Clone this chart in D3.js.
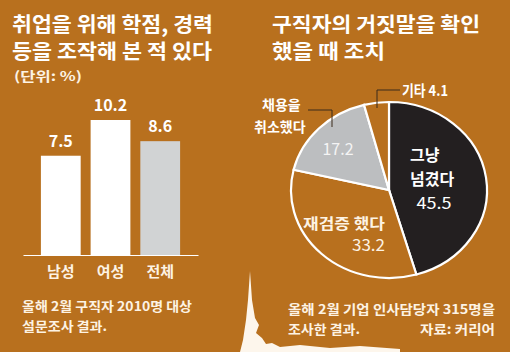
<!DOCTYPE html>
<html>
<head>
<meta charset="utf-8">
<script src="https://cdn.jsdelivr.net/npm/d3@7"></script>
<style>
  body { margin: 0; background: #b8701e; }
  svg text { font-family: "Noto Sans CJK KR", "Noto Sans", sans-serif; }
</style>
</head>
<body>
<div id="chart"></div>
<script>
// left: bar chart
const barCats = ["남성", "여성", "전체"];
const barVals = [7.5, 10.2, 8.6];
// right: pie chart
const pieCats = ["그냥 넘겼다", "재검증 했다", "채용을 취소했다", "기타"];
const pieVals = [45.5, 33.2, 17.2, 4.1];

const width = 510, height = 352;
const bg = "#b8701e";
const cream = "#fdf3e4";

const svg = d3.select("#chart").append("svg")
  .attr("width", width)
  .attr("height", height);

svg.append("rect").attr("width", width).attr("height", height).attr("fill", bg);

// titles
const addText = (x, y, txt, size, opts = {}) => {
  const t = svg.append("text")
    .attr("x", x).attr("y", y)
    .attr("font-size", size)
    .attr("font-weight", opts.weight || "bold")
    .attr("fill", opts.fill || "#ffffff")
    .attr("text-anchor", opts.anchor || "start")
    .text(txt);
  if (opts.len) t.attr("textLength", opts.len).attr("lengthAdjust", "spacingAndGlyphs");
  return t;
};

addText(12, 32, "취업을 위해 학점, 경력", 20, { len: 201 });
addText(12, 59, "등을 조작해 본 적 있다", 20, { len: 200 });
addText(14, 81, "(단위: %)", 13, { len: 68, fill: cream });

addText(272, 32, "구직자의 거짓말을 확인", 20, { len: 208 });
addText(272, 59, "했을 때 조치", 20, { len: 113 });

// ---- bar chart ----
const x = d3.scaleBand()
  .domain(barCats)
  .range([23, 198])
  .paddingInner(0.2)
  .paddingOuter(0.36);

const y = d3.scaleLinear()
  .domain([0, 10.2])
  .range([255, 120]);

const barColor = d3.scaleOrdinal().domain(barCats).range(["#ffffff", "#ffffff", "#d1d3d4"]);

svg.selectAll(".bar")
  .data(barVals)
  .enter()
  .append("rect")
  .attr("class", "bar")
  .attr("x", (d, i) => x(barCats[i]))
  .attr("y", (d) => y(d))
  .attr("width", x.bandwidth())
  .attr("height", (d) => y(0) - y(d))
  .attr("fill", (d, i) => barColor(barCats[i]));

svg.selectAll(".barLabel")
  .data(barVals)
  .enter()
  .append("text")
  .attr("class", "barLabel")
  .attr("x", (d, i) => x(barCats[i]) + x.bandwidth() / 2)
  .attr("y", (d) => y(d) - 9)
  .attr("text-anchor", "middle")
  .attr("font-size", 16)
  .attr("font-weight", "bold")
  .attr("fill", "#ffffff")
  .text((d) => d.toFixed(1));

const xAxis = svg.append("g")
  .attr("transform", `translate(0,${y(0)})`)
  .call(d3.axisBottom(x).tickSize(0).tickSizeOuter(0).tickPadding(11));
xAxis.select(".domain").attr("stroke", "#ffffff").attr("stroke-width", 1.2);
xAxis.selectAll("text")
  .attr("font-size", 15)
  .attr("font-weight", "bold")
  .attr("fill", cream)
  .style("font-family", "'Noto Sans CJK KR', sans-serif");

addText(22, 311, "올해 2월 구직자 2010명 대상", 13, { len: 170, fill: cream });
addText(22, 331, "설문조사 결과.", 13, { len: 85, fill: cream });

// ---- pie chart ----
const cx = 389, cy = 190, rx = 98, ry = 88;
const pie = d3.pie().sort(null).value((d) => d);
const arc = d3.arc().innerRadius(0).outerRadius(ry);
const arcs = pie(pieVals);
const sliceColor = d3.scaleOrdinal().domain(pieCats).range(["#231f20", bg, "#bcbec0", bg]);

const pieG = svg.append("g")
  .attr("transform", `translate(${cx},${cy}) scale(${rx / ry},1)`);

pieG.selectAll("path")
  .data(arcs)
  .enter()
  .append("path")
  .attr("d", arc)
  .attr("fill", (d, i) => sliceColor(pieCats[i]))
  .attr("stroke", "#ffffff")
  .attr("stroke-width", 2.2)
  .attr("vector-effect", "non-scaling-stroke");

// labels inside
addText(410, 161, "그냥", 16, { fill: "#ffffff" });
addText(410, 185, "넘겼다", 16, { fill: "#ffffff" });
addText(434, 209, pieVals[0].toFixed(1), 16, { anchor: "middle", weight: "normal", len: 35 });

addText(385, 229, "재검증 했다", 15, { anchor: "end", fill: cream, len: 82 });
addText(385, 251, pieVals[1].toFixed(1), 16, { anchor: "end", weight: "normal", fill: cream, len: 33 });

addText(338, 155, pieVals[2].toFixed(1), 17, { anchor: "middle", weight: "normal", fill: "#f4f4f4", len: 31 });

// leaders
const leader = d3.line();
svg.append("path")
  .attr("d", leader([[400, 90], [377, 90], [377, 108]]))
  .attr("fill", "none").attr("stroke", "#3a2a1a").attr("stroke-width", 1);
svg.append("path")
  .attr("d", leader([[308, 110], [332, 110], [332, 127]]))
  .attr("fill", "none").attr("stroke", "#3a2a1a").attr("stroke-width", 1);

addText(402, 96, "기타 " + pieVals[3].toFixed(1), 15, { len: 46 });
addText(262, 110, "채용을", 14, { fill: "#ffffff" });
addText(254, 132, "취소했다", 14, { fill: "#ffffff" });

addText(288, 314, "올해 2월 기업 인사담당자 315명을", 13, { len: 207, fill: cream });
addText(288, 334, "조사한 결과.", 13, { len: 72, fill: cream });
addText(495, 334, "자료: 커리어", 13, { anchor: "end", len: 75, fill: cream });

// torn paper decoration
svg.append("path")
  .attr("d", "M250,271 L252,300 L255,318 L259,325 L256,333 L262,338 L266,344 L272,343 L280,347 L300,345 L330,348 L360,346 L400,349 L400,352 L240,352 L243,340 L246,320 L248,300 Z")
  .attr("fill", "#fdf6ec");
</script>
</body>
</html>
